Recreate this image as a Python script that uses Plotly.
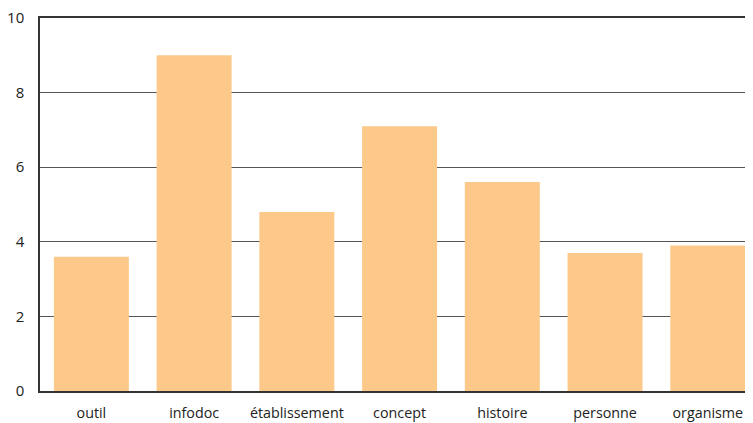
import plotly.graph_objects as go

categories = ["outil", "infodoc", "établissement", "concept", "histoire", "personne", "organisme"]
values = [3.6, 9.0, 4.8, 7.1, 5.6, 3.7, 3.9]
y_ticks = [0, 2, 4, 6, 8, 10]

fig = go.Figure(go.Bar(x=categories, y=values, marker_color="#FDC98A", marker_line_width=0))

fig.update_layout(
    width=745, height=415,
    margin=dict(l=32, r=0, t=10, b=32, autoexpand=False),
    paper_bgcolor="white", plot_bgcolor="white",
    bargap=0.27,
    showlegend=False,
    font=dict(family="Open Sans", size=14.3, color="#222"),
)
fig.update_xaxes(
    range=[-0.5, 6.44], showline=True, linecolor="#333", linewidth=1.5, mirror=True,
    ticks="", showgrid=False, ticklabelstandoff=8, ticklabeloverflow="allow",
    tickfont=dict(size=14.3),
)
fig.update_yaxes(
    range=[0, 10], tickvals=y_ticks, showline=True, linecolor="#333", linewidth=1.5,
    gridcolor="#555", gridwidth=1, zeroline=False, ticks="", ticklabelstandoff=11,
    ticklabeloverflow="allow", tickfont=dict(size=15),
)
fig.write_html("out.html")
